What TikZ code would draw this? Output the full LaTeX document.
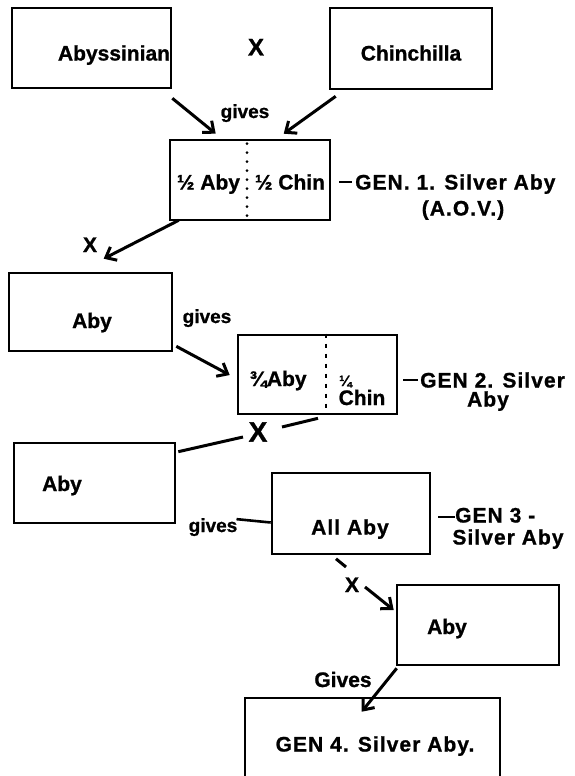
\documentclass[tikz,border=0pt]{standalone}
\usepackage{fontspec}
\setmainfont{Liberation Sans}[BoldFeatures={FakeBold=1}]
\newfontfamily\genfont{Liberation Sans}[LetterSpace=5,BoldFeatures={FakeBold=1}]
\usetikzlibrary{arrows.meta}
\begin{document}
\begin{tikzpicture}[x=1pt,y=-1pt,
  box/.style={draw,line width=2.6pt,inner sep=0pt},
  lbl/.style={font=\bfseries\fontsize{21}{24}\selectfont,inner sep=0pt,anchor=base},
  gen/.style={font=\genfont\bfseries\fontsize{21}{24}\selectfont,inner sep=0pt,anchor=base},
  sm/.style={font=\bfseries\fontsize{19}{22}\selectfont,inner sep=0pt,anchor=base},
  conn/.style={line width=3pt},
  arr/.style={conn,-{Straight Barb[length=9pt,width=15pt]}},
  dots/.style={line width=3pt,line cap=round,dash pattern=on 0pt off 9pt},
  dashv/.style={line width=2.6pt,dash pattern=on 4pt off 6pt},
  tick/.style={line width=2.6pt}]
\useasboundingbox (0,0) rectangle (575,776);

% boxes
\node[box,minimum width=159pt,minimum height=80pt] (abys) at (91.5,48) {};
\node[box,minimum width=162pt,minimum height=81pt] (chin) at (411,48.5) {};
\node[box,minimum width=160pt,minimum height=80pt] (gen1) at (250,180) {};
\node[box,minimum width=163pt,minimum height=78pt] (aby1) at (90.5,312) {};
\node[box,minimum width=159pt,minimum height=79pt] (gen2) at (317.5,374.5) {};
\node[box,minimum width=161pt,minimum height=80pt] (aby2) at (94.5,483) {};
\node[box,minimum width=158pt,minimum height=81pt] (gen3) at (351,513.5) {};
\node[box,minimum width=162pt,minimum height=80pt] (aby3) at (478,625) {};
\node[box,minimum width=255pt,minimum height=94pt] (gen4) at (372.5,745) {};

% dividers
\draw[dots] ([xshift=-3pt,shift={(0,5)}]gen1.north) -- ([xshift=-3pt]gen1.south);
\draw[dashv] ([xshift=8.5pt]gen2.north) -- ([xshift=8.5pt]gen2.south);

% texts
\node[lbl] (tabys) at (114,60.5) {Abyssinian};
\node[font=\bfseries\fontsize{24}{24}\selectfont,inner sep=0pt,anchor=base] (x1) at (256,55.5) {X};
\node[lbl] (tchin) at (411,60.5) {Chinchilla};
\node[sm] (g1) at (245,118) {gives};
\node[lbl] (thalfa) at (208.5,189.5) {½ Aby};
\node[lbl] (thalfc) at (290,189.5) {½ Chin};
\node[gen,anchor=base west] (gen1t) at (355,189.5) {GEN. 1. Silver Aby};
\node[gen] (aov) at (463,215.5) {(A.O.V.)};
\node[lbl] (x2) at (90,252) {X};
\node[lbl] (taby1) at (92,328) {Aby};
\node[sm] (g2) at (207,323) {gives};
\node[lbl] (t34) at (278,386) {¾Aby};
\node[font=\bfseries\fontsize{15}{15}\selectfont,inner sep=0pt,anchor=base west] (t14) at (339,386) {¼};
\node[lbl] (tchin2) at (362,405) {Chin};
\node[gen,anchor=base west] (gen2t) at (420,387.5) {GEN 2. Silver};
\node[gen] (gen2t2) at (488,406.5) {Aby};
\node[font=\bfseries\fontsize{28}{28}\selectfont,inner sep=0pt] (x3) at (258,432) {X};
\node[lbl] (taby2) at (62,491) {Aby};
\node[sm] (g3) at (213,532) {gives};
\node[gen] (tall) at (350,534.5) {All Aby};
\node[gen,anchor=base west] (gen3t) at (455,522.5) {GEN 3 -};
\node[gen] (gen3t2) at (508,544.5) {Silver Aby};
\node[lbl] (x4) at (352,592) {X};
\node[lbl] (taby3) at (447,634) {Aby};
\node[lbl] (tgives) at (343,687) {Gives};
\node[gen] (tgen4) at (375,751.5) {GEN 4. Silver Aby.};

% connectors
\draw[arr] ([shift={(0,9)}]abys.south east) -- ([shift={(47,-5)}]gen1.north west);
\draw[arr] ([shift={(7,6)}]chin.south west) -- ([shift={(115,-5)}]gen1.north west);
\draw[arr] ([shift={(10,-1)}]gen1.south west) -- ([shift={(96,-13)}]aby1.north west);
\draw[arr] ([shift={(3,-6)}]aby1.south east) -- ([shift={(-7,0.5)}]gen2.west);
\draw[conn] ([shift={(0.5,3)}]gen2.south) -- ([shift={(24,-5)}]x3.center);
\draw[conn] ([shift={(-15,5)}]x3.center) -- ([shift={(2,10)}]aby2.north east);
\draw[tick] ([shift={(-1,-8)}]g3.east) -- ([shift={(0,9)}]gen3.west);
\draw[tick] ([shift={(8,2)}]gen1.east) -- ([shift={(-3,-7.5)}]gen1t.base west);
\draw[tick] ([shift={(5,5.5)}]gen2.east) -- ([shift={(-2,-7.5)}]gen2t.base west);
\draw[tick] ([shift={(7,3.5)}]gen3.east) -- ([shift={(0,-5.5)}]gen3t.base west);
\draw[conn] ([shift={(-15,3.5)}]gen3.south) -- ([shift={(-6,-25)}]x4.base);
\draw[arr] ([shift={(13,-5)}]x4.base) -- ([shift={(-2,-15)}]aby3.west);
\draw[arr] ([shift={(1,2)}]aby3.south west) -- ([shift={(118,15)}]gen4.north west);
\end{tikzpicture}
\end{document}
